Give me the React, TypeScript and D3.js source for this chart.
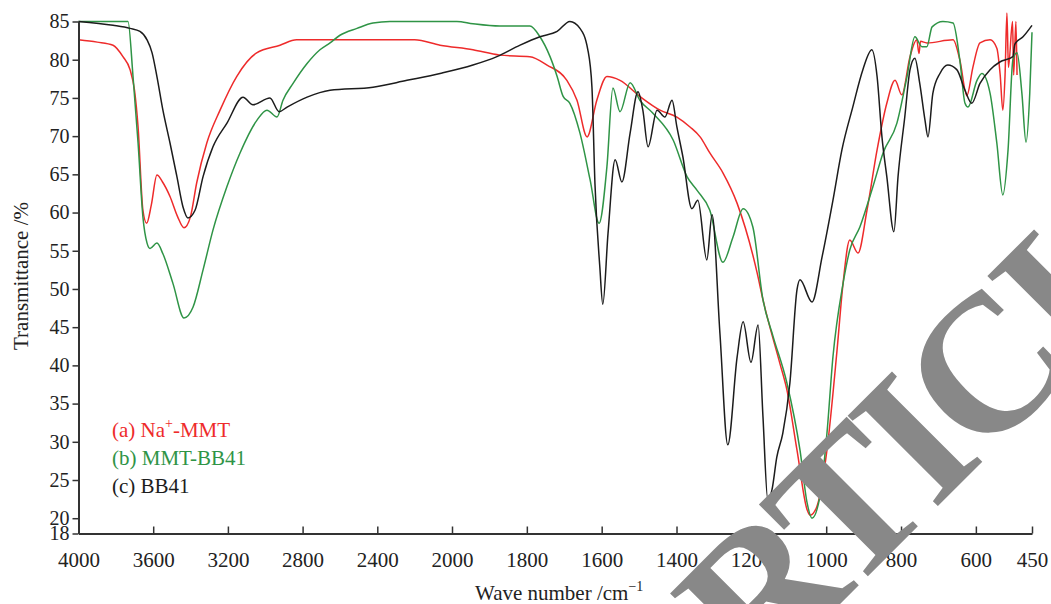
import { useEffect, useRef } from 'react';
import * as d3 from 'd3';

type Pt = [number, number];

// wave number ticks (axis is broken in scale at 2000 cm-1)
const waveTicks = [4000, 3600, 3200, 2800, 2400, 2000, 1800, 1600, 1400, 1200, 1000, 800, 600, 450];
const transTicks = [18, 20, 25, 30, 35, 40, 45, 50, 55, 60, 65, 70, 75, 80, 85];

// (a) Na+-MMT
const naMMT: Pt[] = [
  [4000, 82.6], [3900, 82.3], [3815, 81.9], [3762, 80.4], [3724, 78.7], [3700, 76], [3681, 71.2],
  [3655, 60.3], [3635, 58.6], [3610, 61], [3580, 64.9], [3550, 64], [3510, 62.1], [3470, 59.5],
  [3435, 58.0], [3400, 59.5], [3367, 63.9], [3313, 69.1], [3242, 73.4], [3153, 77.8], [3046, 80.9],
  [2921, 81.9], [2832, 82.6], [2400, 82.6], [2200, 82.6], [2064, 81.9], [1944, 81.3], [1872, 80.6],
  [1792, 80.4], [1746, 79.3], [1693, 77.3], [1666, 74.7], [1639, 69.9], [1613, 74.7], [1586, 77.8],
  [1551, 77.3], [1498, 75.2], [1444, 73.4], [1399, 72.5], [1364, 71.2], [1337, 69.9], [1311, 67.8],
  [1276, 65.2], [1238, 61.2], [1185, 52.2], [1169, 48.6], [1124, 40.3], [1105, 36.8], [1078, 28.9],
  [1051, 21.1], [1043, 20.4], [1025, 21.5], [998, 28.9], [971, 42.0], [955, 50.7], [937, 56.4],
  [915, 54.7], [891, 60.3], [864, 68.2], [838, 74.3], [816, 77.3], [798, 75.4], [776, 80.4],
  [758, 82.6], [752, 80.8], [748, 82.4], [731, 82.2], [661, 82.6], [643, 80], [624, 75.3],
  [608, 79], [589, 82.2], [562, 82.6], [544, 81.5], [535, 78], [528, 73.4], [522, 78], [517, 86.1],
  [513, 79], [502, 85], [499, 78], [493, 85], [490, 78],
];

// (b) MMT-BB41
const mmtBB41: Pt[] = [
  [4000, 85], [3800, 85], [3735, 85], [3708, 77.8], [3681, 69.1], [3655, 59.4], [3633, 56],
  [3617, 55.3], [3580, 56], [3548, 54.6], [3494, 50.7], [3435, 46.2], [3387, 47.6], [3333, 52.5],
  [3280, 57.7], [3205, 63.4], [3135, 67.8], [3044, 72.1], [2991, 73.4], [2937, 72.5], [2905, 74.7],
  [2851, 76.9], [2776, 79.5], [2707, 81.3], [2653, 82.2], [2600, 83.2], [2509, 84.1], [2423, 84.8],
  [2332, 85], [1987, 85], [1944, 84.7], [1872, 84.4], [1792, 84.4], [1765, 83], [1738, 80.4],
  [1719, 77.8], [1703, 75.2], [1685, 74.3], [1658, 70.4], [1631, 64.3], [1607, 58.6], [1586, 66],
  [1570, 76.3], [1551, 73.2], [1524, 77], [1498, 74.7], [1463, 73], [1409, 69.5], [1372, 64.7],
  [1345, 62.9], [1311, 60.3], [1276, 53.5], [1249, 56.8], [1222, 60.5], [1196, 58.1], [1169, 48.6],
  [1142, 43.8], [1105, 37.7], [1070, 28.9], [1051, 22], [1038, 20], [1017, 22.8], [998, 31.1],
  [982, 41.1], [955, 50.7], [937, 55.1], [910, 58.1], [875, 63.4], [848, 67.8], [811, 71.7],
  [784, 77.8], [763, 83], [744, 81.7], [731, 81.7], [717, 84.3], [688, 85], [661, 84.8], [643, 80],
  [629, 74.3], [621, 73.8], [597, 77.3], [584, 78.2], [562, 75.6], [544, 69.1], [528, 62.3],
  [514, 68.2], [501, 80], [490, 80.9], [477, 75.6], [466, 69.2], [456, 75.6], [450, 83.6],
];

// (c) BB41
const bb41: Pt[] = [
  [4000, 85], [3815, 84.5], [3724, 84.1], [3671, 83.7], [3633, 82.6], [3606, 80.9], [3580, 77.8],
  [3548, 73.4], [3510, 69.1], [3473, 64.7], [3440, 60.7], [3414, 59.3], [3376, 60.3], [3333, 64.7],
  [3280, 68.6], [3205, 71.7], [3119, 75.1], [3066, 74.1], [2975, 75], [2926, 73.2], [2883, 73.8],
  [2776, 75.1], [2653, 76], [2423, 76.4], [2241, 77.3], [2064, 78.2], [1944, 79.3], [1880, 80.4],
  [1818, 81.9], [1765, 83], [1719, 83.7], [1685, 85], [1658, 84.1], [1637, 81.3], [1626, 76.4],
  [1618, 63.8], [1605, 52.9], [1597, 48], [1583, 57.3], [1564, 66.9], [1546, 64], [1524, 70.4],
  [1503, 75.8], [1490, 73.4], [1476, 68.6], [1452, 73.4], [1431, 72.5], [1412, 74.7], [1399, 71.2],
  [1383, 67.3], [1359, 60.5], [1343, 61.6], [1319, 53.8], [1305, 59.7], [1284, 44.2], [1263, 29.6],
  [1238, 41.1], [1222, 45.7], [1201, 40.4], [1182, 45.3], [1169, 33.3], [1156, 22.4], [1145, 23.7],
  [1132, 28], [1116, 31.1], [1097, 37.7], [1078, 49.9], [1070, 51.2], [1038, 48.3], [1011, 54.2],
  [982, 61.6], [958, 68.2], [929, 73.8], [902, 78.7], [878, 81.3], [864, 77.8], [851, 69.9],
  [838, 64.7], [819, 57.5], [808, 64.7], [790, 72.5], [776, 78.7], [763, 80.2], [750, 76.9],
  [736, 72.1], [728, 69.9], [715, 75.6], [696, 78.2], [675, 79.3], [651, 78.7], [629, 76],
  [611, 74.3], [589, 76.9], [562, 78.7], [536, 79.7], [501, 80.4], [496, 82], [474, 83], [450, 84.5],
];

const series = [
  { name: '(a) Na', sup: '+', rest: '-MMT', data: naMMT, color: '#ee2b2b' },
  { name: '(b) MMT-BB41', sup: '', rest: '', data: mmtBB41, color: '#2f9446' },
  { name: '(c) BB41', sup: '', rest: '', data: bb41, color: '#1c1c1c' },
];

const W = 1051;
const H = 604;
const FONT = '"Liberation Serif", "Times New Roman", serif';

const App = () => {
  const ref = useRef<SVGSVGElement | null>(null);

  useEffect(() => {
    if (!ref.current) return;
    const svg = d3.select(ref.current);
    svg.selectAll('*').remove();

    const x = d3.scaleLinear().domain([4000, 2000, 450]).range([78.5, 452, 1032]);
    const y = d3.scaleLinear().domain([18, 85]).range([533.5, 21.5]);

    // curves
    const line = d3.line<Pt>()
      .x(d => x(d[0]))
      .y(d => y(d[1]))
      .curve(d3.curveMonotoneX);

    svg.append('g')
      .selectAll('path')
      .data(series)
      .enter()
      .append('path')
      .attr('d', d => line(d.data))
      .attr('fill', 'none')
      .attr('stroke', d => d.color)
      .attr('stroke-width', 1.5)
      .attr('stroke-linejoin', 'round');

    // axes
    const yAxis = svg.append('g')
      .attr('transform', 'translate(78.5,0)')
      .call(d3.axisLeft(y).tickValues(transTicks).tickSizeInner(6).tickSizeOuter(0).tickPadding(3));
    const xAxis = svg.append('g')
      .attr('transform', 'translate(0,533.5)')
      .call(d3.axisBottom(x).tickValues(waveTicks).tickFormat(d3.format('d')).tickSizeInner(-7).tickSizeOuter(0).tickPadding(19));

    [yAxis, xAxis].forEach(g => {
      g.select('.domain').attr('stroke', '#333').attr('stroke-width', 2);
      g.selectAll('.tick line').attr('stroke', '#333').attr('stroke-width', 1.5);
      g.selectAll('.tick text').attr('fill', '#222').style('font-family', FONT);
    });
    yAxis.selectAll('.tick text').style('font-size', '20px');
    xAxis.selectAll('.tick text').style('font-size', '21px');

    // axis titles
    svg.append('text')
      .attr('transform', 'translate(28,276) rotate(-90)')
      .attr('text-anchor', 'middle')
      .style('font-family', FONT)
      .style('font-size', '21px')
      .attr('fill', '#222')
      .text('Transmittance /%');

    const xt = svg.append('text')
      .attr('x', 475)
      .attr('y', 600)
      .style('font-family', FONT)
      .style('font-size', '21px')
      .attr('fill', '#222');
    xt.append('tspan').text('Wave number /cm');
    xt.append('tspan').attr('dy', -9).style('font-size', '14px').text('\u22121');

    // legend
    series.forEach((s, i) => {
      const t = svg.append('text')
        .attr('x', 112)
        .attr('y', 437 + i * 28)
        .style('font-family', FONT)
        .style('font-size', '21px')
        .attr('fill', s.color);
      t.append('tspan').text(s.name);
      if (s.sup) {
        t.append('tspan').attr('dy', -9).style('font-size', '14px').text(s.sup);
        t.append('tspan').attr('dy', 9).text(s.rest);
      }
    });

    // watermark
    svg.append('text')
      .attr('transform', 'translate(664,780) rotate(-45)')
      .style('font-family', FONT)
      .style('font-size', '195px')
      .style('font-weight', 'bold')
      .style('letter-spacing', '-8px')
      .attr('fill', '#888')
      .text('ARTICLE');
  }, []);

  return (
    <svg
      ref={ref}
      width={W}
      height={H}
      style={{ position: 'absolute', left: 0, top: 0, background: '#fff' }}
    />
  );
};

export default App;
